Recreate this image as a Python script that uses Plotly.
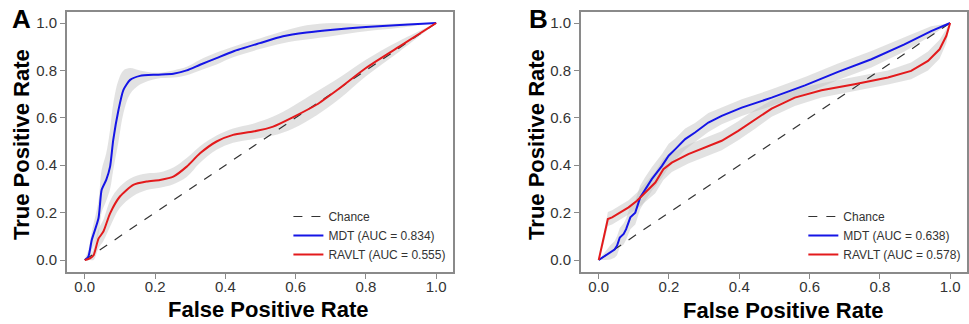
import plotly.graph_objects as go

# ---------------- Panel A data ----------------
a_mdt_x = [0, 0.01, 0.02, 0.039, 0.048, 0.061, 0.072, 0.081, 0.096, 0.11, 0.129, 0.157,
           0.205, 0.252, 0.29, 0.328, 0.375, 0.422, 0.498, 0.564, 0.631, 0.706, 0.80, 0.896, 1.0]
a_mdt_y = [0, 0.014, 0.085, 0.176, 0.296, 0.338, 0.394, 0.507, 0.634, 0.718, 0.76, 0.777,
           0.782, 0.786, 0.80, 0.824, 0.852, 0.88, 0.915, 0.944, 0.96, 0.972, 0.983, 0.992, 1.0]
a_mdt_hi = [0, 0.04, 0.12, 0.25, 0.38, 0.45, 0.55, 0.66, 0.76, 0.80, 0.81, 0.80,
            0.79, 0.80, 0.815, 0.845, 0.875, 0.90, 0.935, 0.965, 0.99, 1.0, 0.995, 0.998, 1.0]
a_mdt_lo = [0, 0.0, 0.04, 0.11, 0.20, 0.25, 0.30, 0.38, 0.50, 0.62, 0.70, 0.74,
            0.765, 0.77, 0.78, 0.80, 0.825, 0.855, 0.89, 0.915, 0.93, 0.945, 0.965, 0.98, 1.0]

a_rav_x = [0, 0.015, 0.025, 0.039, 0.053, 0.072, 0.10, 0.138, 0.176, 0.214, 0.252, 0.29,
           0.328, 0.375, 0.422, 0.479, 0.536, 0.593, 0.659, 0.725, 0.80, 0.896, 1.0]
a_rav_y = [0, 0.007, 0.02, 0.09, 0.12, 0.197, 0.268, 0.317, 0.331, 0.338, 0.352, 0.394,
           0.45, 0.50, 0.528, 0.542, 0.563, 0.603, 0.655, 0.725, 0.81, 0.901, 1.0]
a_rav_hi = [0, 0.02, 0.05, 0.13, 0.17, 0.25, 0.31, 0.35, 0.365, 0.37, 0.39, 0.43,
            0.48, 0.525, 0.555, 0.575, 0.605, 0.65, 0.71, 0.77, 0.845, 0.925, 1.0]
a_rav_lo = [0, 0.0, 0.0, 0.05, 0.08, 0.14, 0.22, 0.27, 0.295, 0.305, 0.32, 0.35,
            0.41, 0.465, 0.495, 0.51, 0.525, 0.555, 0.61, 0.68, 0.775, 0.88, 1.0]

# ---------------- Panel B data ----------------
b_mdt_x = [0, 0.019, 0.033, 0.045, 0.052, 0.06, 0.071, 0.078, 0.09, 0.104, 0.118, 0.132,
           0.151, 0.18, 0.199, 0.218, 0.246, 0.274, 0.312, 0.35, 0.407, 0.492, 0.587,
           0.681, 0.776, 0.87, 0.946, 1.0]
b_mdt_y = [0, 0.018, 0.032, 0.044, 0.06, 0.095, 0.11, 0.13, 0.18, 0.20, 0.264, 0.299,
           0.341, 0.397, 0.44, 0.468, 0.51, 0.538, 0.58, 0.608, 0.643, 0.685, 0.737,
           0.794, 0.847, 0.91, 0.966, 1.0]
b_mdt_band = [0, 0.02, 0.03, 0.035, 0.04, 0.04, 0.045, 0.045, 0.05, 0.05, 0.05, 0.05,
              0.05, 0.05, 0.05, 0.045, 0.045, 0.04, 0.04, 0.035, 0.035, 0.035, 0.035,
              0.035, 0.035, 0.03, 0.02, 0]

b_rav_x = [0, 0.014, 0.026, 0.038, 0.061, 0.085, 0.109, 0.132, 0.161, 0.184, 0.208, 0.255,
           0.303, 0.35, 0.397, 0.445, 0.492, 0.558, 0.634, 0.728, 0.823, 0.889, 0.937,
           0.97, 0.989, 1.0]
b_rav_y = [0, 0.088, 0.173, 0.18, 0.20, 0.222, 0.25, 0.285, 0.327, 0.383, 0.411, 0.447,
           0.475, 0.503, 0.545, 0.594, 0.639, 0.685, 0.716, 0.742, 0.77, 0.798, 0.84,
           0.889, 0.945, 1.0]
b_rav_band = [0, 0.02, 0.03, 0.03, 0.03, 0.03, 0.035, 0.04, 0.045, 0.045, 0.04, 0.04,
              0.04, 0.04, 0.04, 0.04, 0.035, 0.035, 0.03, 0.03, 0.03, 0.035, 0.04,
              0.04, 0.03, 0]

chance = [0, 1]
tick_vals = [0.0, 0.2, 0.4, 0.6, 0.8, 1.0]
tick_text = ["0.0", "0.2", "0.4", "0.6", "0.8", "1.0"]
labels_a = ["Chance", "MDT (AUC = 0.834)", "RAVLT (AUC = 0.555)"]
labels_b = ["Chance", "MDT (AUC = 0.638)", "RAVLT (AUC = 0.578)"]

BLUE = "#1515e6"
RED = "#e31a1c"
BAND = "rgba(190,190,190,0.45)"
FONT = "Liberation Sans, Arial, Helvetica, sans-serif"

fig = go.Figure()


def add_band(x, lo, hi, xa, ya, shape):
    fig.add_trace(go.Scatter(
        x=list(x) + list(x)[::-1], y=list(hi) + list(lo)[::-1],
        fill="toself", fillcolor=BAND, line=dict(width=0, shape=shape),
        mode="lines", showlegend=False, hoverinfo="skip", xaxis=xa, yaxis=ya))


def panel(xa, ya, leg, mdt, rav, labels, shape):
    (mx, my, mlo, mhi), (rx, ry, rlo, rhi) = mdt, rav
    add_band(mx, mlo, mhi, xa, ya, shape)
    add_band(rx, rlo, rhi, xa, ya, shape)
    fig.add_trace(go.Scatter(x=chance, y=chance, mode="lines", name=labels[0],
                             line=dict(color="#333333", width=1.2, dash="dash"),
                             xaxis=xa, yaxis=ya, legend=leg))
    fig.add_trace(go.Scatter(x=mx, y=my, mode="lines", name=labels[1],
                             line=dict(color=BLUE, width=2, shape=shape, smoothing=0.6),
                             xaxis=xa, yaxis=ya, legend=leg))
    fig.add_trace(go.Scatter(x=rx, y=ry, mode="lines", name=labels[2],
                             line=dict(color=RED, width=2, shape=shape, smoothing=0.6),
                             xaxis=xa, yaxis=ya, legend=leg))


panel("x", "y", "legend",
      (a_mdt_x, a_mdt_y, a_mdt_lo, a_mdt_hi),
      (a_rav_x, a_rav_y, a_rav_lo, a_rav_hi), labels_a, "spline")

b_mdt_lo = [max(0, y - d) for y, d in zip(b_mdt_y, b_mdt_band)]
b_mdt_hi = [min(1.0, y + d) for y, d in zip(b_mdt_y, b_mdt_band)]
b_rav_lo = [max(0, y - d) for y, d in zip(b_rav_y, b_rav_band)]
b_rav_hi = [min(1.0, y + d) for y, d in zip(b_rav_y, b_rav_band)]
panel("x2", "y2", "legend2",
      (b_mdt_x, b_mdt_y, b_mdt_lo, b_mdt_hi),
      (b_rav_x, b_rav_y, b_rav_lo, b_rav_hi), labels_b, "linear")

axis_common = dict(showgrid=False, zeroline=False, showline=True, mirror=True,
                   linecolor="#8a8a8a", linewidth=1.5, ticks="outside", ticklen=5,
                   tickcolor="#8a8a8a", tickwidth=1.2, tickvals=tick_vals, ticktext=tick_text,
                   tickfont=dict(family=FONT, size=15, color="#333333"))

XR = [-0.051, 1.048]
YR = [-0.0506, 1.0464]
legend_common = dict(xanchor="left", yanchor="top", bgcolor="rgba(0,0,0,0)",
                     font=dict(family=FONT, size=12, color="#333333"),
                     itemwidth=30, tracegroupgap=0)
fig.update_layout(
    width=969, height=324, margin=dict(l=0, r=0, t=0, b=0),
    paper_bgcolor="white", plot_bgcolor="white",
    xaxis=dict(domain=[67 / 969, 454 / 969], range=XR, anchor="y",
               ticklabelstandoff=-5, **axis_common),
    yaxis=dict(domain=[1 - 272 / 324, 1 - 12 / 324], range=YR, anchor="x", **axis_common),
    xaxis2=dict(domain=[582 / 969, 1.0], range=XR, anchor="y2",
                ticklabelstandoff=-5, **axis_common),
    yaxis2=dict(domain=[1 - 272 / 324, 1 - 12 / 324], range=YR, anchor="x2", **axis_common),
    legend=dict(x=289 / 969, y=1 - 202 / 324, **legend_common),
    legend2=dict(x=805 / 969, y=1 - 202 / 324, **legend_common),
    font=dict(family=FONT),
)

title_font = dict(family=FONT, size=22, color="black")
annos = [
    dict(text="<b>A</b>", x=22 / 969, y=1 - 19 / 324, font=dict(family=FONT, size=26, color="black")),
    dict(text="<b>B</b>", x=540 / 969, y=1 - 19 / 324, font=dict(family=FONT, size=26, color="black")),
    dict(text="<b>True Positive Rate</b>", x=21 / 969, y=1 - 144 / 324, textangle=-90, font=title_font),
    dict(text="<b>True Positive Rate</b>", x=537 / 969, y=1 - 144 / 324, textangle=-90, font=title_font),
    dict(text="<b>False Positive Rate</b>", x=269 / 969, y=1 - 309 / 324, font=title_font),
    dict(text="<b>False Positive Rate</b>", x=785 / 969, y=1 - 310 / 324, font=title_font),
]
for a in annos:
    fig.add_annotation(xref="paper", yref="paper", showarrow=False,
                       xanchor="center", yanchor="middle", **a)

fig.write_html("out.html", config={"displayModeBar": False},
               post_script="document.body.style.margin='0';")
